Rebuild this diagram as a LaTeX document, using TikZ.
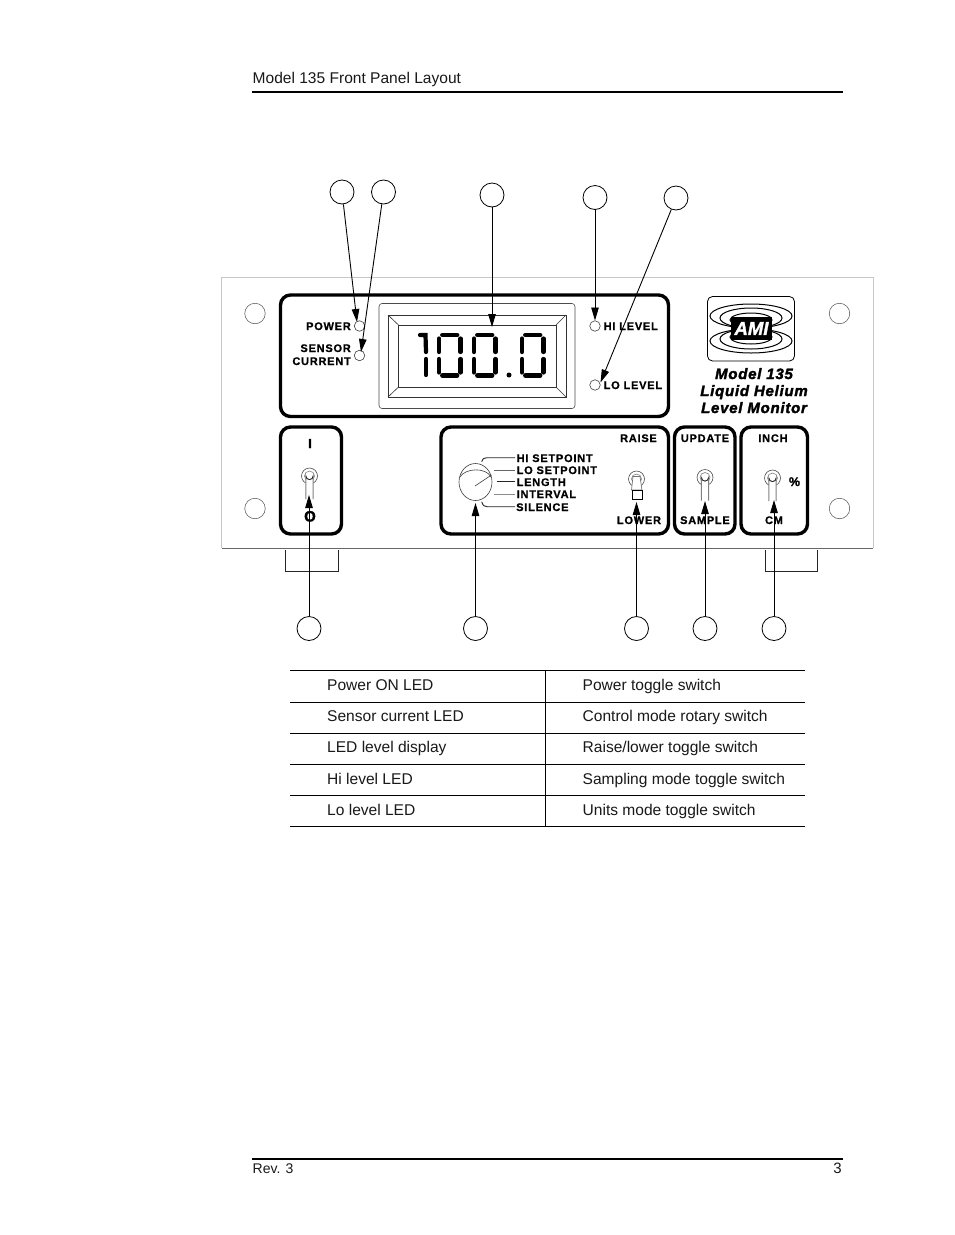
\documentclass[tikz,border=0pt]{standalone}
\usetikzlibrary{arrows.meta}
\usepackage{fontspec}
\setmainfont{Liberation Sans}
\newfontfamily\plfont[LetterSpace=7,FakeBold=0.8]{Liberation Sans}
\newfontfamily\hvfont[FakeBold=1.5]{Liberation Sans}
\newfontfamily\mdlfont[FakeBold=2,LetterSpace=5]{Liberation Sans}
\newcommand{\zerodigit}[1]{%
  \begin{scope}[xshift=#1]
    \draw[seg] (3.2,335) -- (18.3,335);
    \draw[seg] (3.2,375.5) -- (18.3,375.5);
    \draw[seg] (0,338.5) -- (0,352);
    \draw[seg] (0,359) -- (0,372.5);
    \draw[seg] (21.5,338.5) -- (21.5,352);
    \draw[seg] (21.5,359) -- (21.5,372.5);
  \end{scope}}
\begin{document}
\begin{tikzpicture}[x=1pt,y=-1pt,
  txt/.style={inner sep=0pt,anchor=base west,font=\fontsize{15.55}{16}\selectfont,text=black!90},
  pl/.style={inner sep=0pt,anchor=base,font=\plfont\bfseries\fontsize{11}{11}\selectfont},
  pll/.style={pl,anchor=base west},
  plr/.style={pl,anchor=base east},
  mdl/.style={inner sep=0pt,anchor=base,font=\mdlfont\bfseries\itshape\fontsize{15}{15}\selectfont},
  callout/.style={circle,draw=black,line width=0.8pt,minimum size=24pt,inner sep=0pt},
  hole/.style={circle,draw=black!70,line width=0.5pt,minimum size=20.5pt,inner sep=0pt},
  led/.style={circle,draw=black!75,line width=0.6pt,minimum size=10.5pt,inner sep=0pt},
  blackbox/.style={draw=black,line width=3.4pt,rounded corners=10pt},
  arr/.style={line width=0.9pt,-{Triangle[length=13pt,width=7.5pt]}},
  rule/.style={line width=0.7pt,black},
  seg/.style={line width=4.2pt,line cap=round},
  tick/.style={line width=0.9pt,black!85},
  togouter/.style={draw=black!70,line width=0.6pt},
  hdl/.style={draw=black!50,line width=0.9pt,fill=white},
  ring/.style={black,line width=1pt}
]
\useasboundingbox (0,0) rectangle (954,1235);
\fill[white] (0,0) rectangle (954,1235);

% header / footer
\node[txt] (title) at (252.5,83) {Model 135 Front Panel Layout};
\draw[line width=1.6pt] (252,92) coordinate (hl) -- (843,92) coordinate (hr);
\draw[line width=1.6pt] (252,1159) coordinate (fl) -- (843,1159) coordinate (fr);
\node[txt,font=\fontsize{14}{14}\selectfont] (rev) at (252.5,1173) {Rev. 3};
\node[txt,anchor=base east,font=\fontsize{15}{15}\selectfont] (pg) at (842,1173) {3};

% panel
\draw[draw=black!22,line width=0.9pt] (221.5,548) -- (221.5,277) -- (873,277) -- (873,548);
\draw[draw=black!60,line width=0.9pt] (221.5,548.5) -- (873,548.5);
\foreach \n/\x/\y in {h1/255/313.5,h2/839.5/313.5,h3/255/508.5,h4/839.5/508.5}
  \node[hole] (\n) at (\x,\y) {};

% black boxes
\draw[blackbox] (280.5,295) rectangle (668.5,416.5);
\draw[blackbox] (280.5,427) rectangle (341.5,534);
\draw[blackbox] (441,427) rectangle (668.5,534);
\draw[blackbox] (674.5,427) rectangle (735,534);
\draw[blackbox] (741,427) rectangle (807.5,534);

% brackets
\draw[line width=0.7pt,black!85] (285,550) -- (285,571.5) -- (338,571.5) -- (338,550);
\draw[line width=0.7pt,black!85] (765,550) -- (765,571.5) -- (817,571.5) -- (817,550);

% display
\draw[black!70,line width=0.6pt,rounded corners=3pt] (379,303.5) rectangle (575,408.5);
\draw[black!80,line width=0.6pt] (388,315) rectangle (566,397);
\draw[black!80,line width=0.6pt] (398.5,325) rectangle (556,387);
\foreach \a/\b in {388/398.5,566/556}{
  \draw[black!80,line width=0.6pt] (\a,315) -- (\b,325);
  \draw[black!80,line width=0.6pt] (\a,397) -- (\b,387);
}
% digits
\draw[seg] (420,335) -- (425.5,335) -- (426,352);
\draw[seg] (426,359) -- (426,375);
\zerodigit{439pt}
\zerodigit{474pt}
\zerodigit{522pt}
\fill (509,375) circle (2.5pt);

% LEDs
\node[led] (l1) at (359.5,326) {};
\node[led] (l2) at (359.5,355.5) {};
\node[led] (l3) at (595,326) {};
\node[led] (l4) at (595,385) {};

% panel labels
\node[plr] (p1) at (351,330) {POWER};
\node[plr] (p2) at (351,352) {SENSOR};
\node[plr] (p3) at (351,365) {CURRENT};
\node[pll] (p4) at (603.5,330) {HI LEVEL};
\node[pll] (p5) at (603.5,389) {LO LEVEL};
\node[pl,font=\hvfont\bfseries\fontsize{13}{13}\selectfont] (p6) at (310,448) {I};
\node[pl,font=\hvfont\bfseries\fontsize{15}{15}\selectfont] (p7) at (310,521.5) {O};
\node[pll] (p8) at (516.5,462) {HI SETPOINT};
\node[pll] (p9) at (516.5,474) {LO SETPOINT};
\node[pll] (p10) at (516.5,486) {LENGTH};
\node[pll] (p11) at (516.5,498) {INTERVAL};
\node[pll] (p12) at (516,511) {SILENCE};
\node[pl] (p13) at (638.5,442) {RAISE};
\node[pl] (p14) at (639,524) {LOWER};
\node[pl] (p15) at (705,442) {UPDATE};
\node[pl] (p16) at (705,524) {SAMPLE};
\node[pl] (p17) at (773,442) {INCH};
\node[pl] (p18) at (774,524) {CM};
\node[pl,font=\hvfont\bfseries\fontsize{12.5}{13}\selectfont] (p19) at (794.5,486) {\%};

% knob
\draw[black!75,line width=0.6pt] (475.5,482) ellipse (16.5 and 18.5);
\draw[black!75,line width=0.6pt] (460,477) .. controls (465,468) and (486,467) .. (491,477);
\draw[black!75,line width=0.6pt] (475,486) -- (491.5,475);
\draw[tick] (481.7,461.7) .. controls (483,458.5) and (484,457.7) .. (487,457.7) -- (515,457.7);
\draw[tick,black!60] (494,470) -- (515,470);
\draw[tick] (496.7,481.7) -- (515,481.7);
\draw[tick,black!45] (494,494) -- (515,494);
\draw[tick] (481.7,501.7) .. controls (483,505.5) and (484,506.7) .. (487,506.7) -- (515,506.7);

% toggles
\foreach \x/\y in {309.5/476,705/477.5,772.5/478}{
  \draw[togouter] (\x,\y) circle (8);
  \draw[togouter,black!50] (\x,\y) circle (5);
  \draw[hdl] (\x-3.6,\y+23) -- (\x-3.6,\y) arc (180:0:3.6) -- (\x+3.6,\y+23);
  \draw[black!85,line width=0.7pt] (\x-3.6,\y) arc (180:0:3.6);
}
% raise / lower toggle
\draw[togouter] (636.5,479) circle (8);
\draw[togouter,black!50] (636.5,479) circle (5);
\draw[draw=black!55,fill=white,line width=0.7pt] (633,476.5) -- (640,476.5) -- (642,490) -- (631.5,490) -- cycle;
\draw[draw=black,fill=white,line width=0.6pt] (632,490) rectangle (642.5,499.5);

% logo
\draw[black,line width=0.8pt,rounded corners=5pt] (707.5,296.5) rectangle (794.5,361);
\draw[ring] (751,316) ellipse (41 and 12);
\draw[ring] (751,318) ellipse (31 and 10);
\draw[ring] (751,320) ellipse (21 and 7);
\draw[ring] (751,341) ellipse (41 and 12);
\draw[ring] (751,339) ellipse (31 and 10);
\draw[ring] (751,337) ellipse (21 and 7);
\fill[black] (731,317) rectangle (772,339.5);
\node[inner sep=0pt,text=white,font=\hvfont\bfseries\itshape\fontsize{18.5}{19}\selectfont] (ami) at (751.5,328.5) {AMI};
\node[mdl] (m1) at (754,379) {Model 135};
\node[mdl] (m2) at (754,396) {Liquid Helium};
\node[mdl] (m3) at (754,413) {Level Monitor};

% callouts
\node[callout] (c1) at (342,192) {};
\node[callout] (c2) at (383.5,192) {};
\node[callout] (c3) at (492,195) {};
\node[callout] (c4) at (595,197.5) {};
\node[callout] (c5) at (676,198) {};
\node[callout] (c6) at (309,628.5) {};
\node[callout] (c7) at (475.5,628.5) {};
\node[callout] (c8) at (636.5,628.5) {};
\node[callout] (c9) at (705,628.5) {};
\node[callout] (c10) at (774,628.5) {};

\coordinate (t1) at (357,322);
\coordinate (t2) at (361,352);
\coordinate (t3) at (492,327);
\coordinate (t4) at (595,320.5);
\coordinate (t5) at (600.5,382.5);
\coordinate (t6) at (309,495);
\coordinate (t7) at (475.5,503);
\coordinate (t8) at (636.5,502);
\coordinate (t9) at (705,501);
\coordinate (t10) at (774,500);
\foreach \i in {1,...,10}
  \draw[arr] (c\i) -- (t\i);

% table
\foreach \y in {670,702,733,764,795,826}
  \draw[rule] (290,\y) -- (805,\y);
\draw[rule] (545.5,670) -- (545.5,826);
\node[txt] (a1) at (327,690) {Power ON LED};
\node[txt] (a2) at (327,721) {Sensor current LED};
\node[txt] (a3) at (327,752) {LED level display};
\node[txt] (a4) at (327,784) {Hi level LED};
\node[txt] (a5) at (327,815) {Lo level LED};
\node[txt] (b1) at (582.5,690) {Power toggle switch};
\node[txt] (b2) at (582.5,721) {Control mode rotary switch};
\node[txt] (b3) at (582.5,752) {Raise/lower toggle switch};
\node[txt] (b4) at (582.5,784) {Sampling mode toggle switch};
\node[txt] (b5) at (582.5,815) {Units mode toggle switch};
\end{tikzpicture}
\end{document}
